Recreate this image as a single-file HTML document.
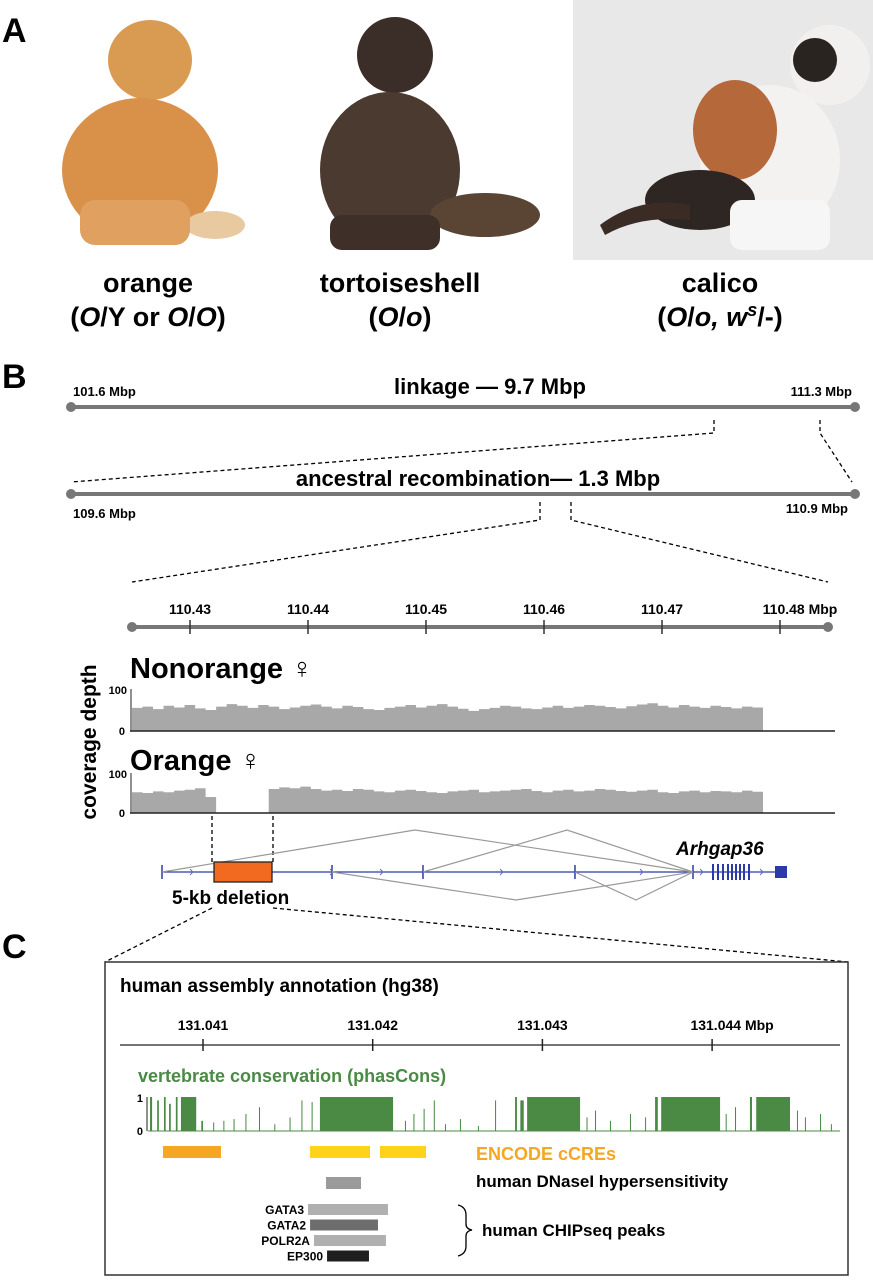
<!DOCTYPE html>
<html><head><meta charset="utf-8"><style>
html,body{margin:0;padding:0;background:#fff}
svg{display:block;font-family:"Liberation Sans",Arial,sans-serif}
</style></head><body>
<svg id="fig" width="873" height="1280" viewBox="0 0 873 1280" xmlns="http://www.w3.org/2000/svg">
<!-- Panel A -->
<text x="2" y="42" font-size="34" font-weight="bold">A</text>
<g>
 <ellipse cx="150" cy="60" rx="42" ry="40" fill="#d99a52"/>
 <ellipse cx="140" cy="170" rx="78" ry="72" fill="#d9914a"/>
 <ellipse cx="215" cy="225" rx="30" ry="14" fill="#e8c9a0"/>
 <rect x="80" y="200" width="110" height="45" rx="15" fill="#e0a060"/>
</g>
<g>
 <ellipse cx="395" cy="55" rx="38" ry="38" fill="#3b2e28"/>
 <ellipse cx="390" cy="170" rx="70" ry="78" fill="#4a3a30"/>
 <ellipse cx="485" cy="215" rx="55" ry="22" fill="#5a4434"/>
 <rect x="330" y="215" width="110" height="35" rx="12" fill="#3e3028"/>
</g>
<g>
 <rect x="573" y="0" width="300" height="260" fill="#e8e8e8"/>
 <ellipse cx="830" cy="65" rx="40" ry="40" fill="#f2f0ee"/>
 <ellipse cx="815" cy="60" rx="22" ry="22" fill="#2a2420"/>
 <ellipse cx="770" cy="160" rx="70" ry="75" fill="#f4f2f0"/>
 <ellipse cx="735" cy="130" rx="42" ry="50" fill="#b5683a"/>
 <ellipse cx="700" cy="200" rx="55" ry="30" fill="#2e2622"/>
 <path d="M600 225 Q640 195 690 205 L690 220 Q640 215 605 235Z" fill="#3a2c24"/>
 <rect x="730" y="200" width="100" height="50" rx="12" fill="#f6f6f6"/>
</g>
<g font-weight="bold" font-size="27" text-anchor="middle">
 <text x="148" y="292">orange</text>
 <text x="148" y="326">(<tspan font-style="italic">O</tspan>/Y or <tspan font-style="italic">O</tspan>/<tspan font-style="italic">O</tspan>)</text>
 <text x="400" y="292">tortoiseshell</text>
 <text x="400" y="326">(<tspan font-style="italic">O</tspan>/<tspan font-style="italic">o</tspan>)</text>
 <text x="720" y="292">calico</text>
 <text x="720" y="326">(<tspan font-style="italic">O</tspan>/<tspan font-style="italic">o, w</tspan><tspan font-style="italic" font-size="18" dy="-10">s</tspan><tspan dy="10">/-)</tspan></text>
</g>
<!-- Panel B -->
<text x="2" y="388" font-size="34" font-weight="bold">B</text>
<g>
 <line x1="71" y1="407" x2="855" y2="407" stroke="#777" stroke-width="4"/>
 <circle cx="71" cy="407" r="5" fill="#777"/><circle cx="855" cy="407" r="5" fill="#777"/>
 <text x="73" y="396" font-size="13" font-weight="bold">101.6 Mbp</text>
 <text x="852" y="396" font-size="13" font-weight="bold" text-anchor="end">111.3 Mbp</text>
 <text x="490" y="394" font-size="22" font-weight="bold" text-anchor="middle">linkage — 9.7 Mbp</text>
</g>
<g fill="none" stroke="#000" stroke-width="1.3" stroke-dasharray="4,3">
 <polyline points="714,420 714,433 71,482"/>
 <polyline points="820,420 820,433 852,482"/>
 <polyline points="540,502 540,520 132,582"/>
 <polyline points="571,502 571,520 828,582"/>
 <line x1="212" y1="816" x2="212" y2="862"/>
 <line x1="273" y1="816" x2="273" y2="862"/>
 <polyline points="212,908 105,962"/>
 <polyline points="273,908 848,962"/>
</g>
<g>
 <line x1="71" y1="494" x2="855" y2="494" stroke="#777" stroke-width="4"/>
 <circle cx="71" cy="494" r="5" fill="#777"/><circle cx="855" cy="494" r="5" fill="#777"/>
 <text x="73" y="518" font-size="13" font-weight="bold">109.6 Mbp</text>
 <text x="848" y="513" font-size="13" font-weight="bold" text-anchor="end">110.9 Mbp</text>
 <text x="478" y="486" font-size="22" font-weight="bold" text-anchor="middle">ancestral recombination— 1.3 Mbp</text>
</g>
<g id="mbpAxis"></g>
<text transform="translate(96,742) rotate(-90)" font-size="21" font-weight="bold" text-anchor="middle">coverage depth</text>
<text x="130" y="678" font-size="29" font-weight="bold">Nonorange ♀</text>
<text x="130" y="770" font-size="29" font-weight="bold">Orange ♀</text>
<g id="cov1"></g>
<g id="cov2"></g>
<g id="gene"></g>
<text x="676" y="855" font-size="19" font-weight="bold" font-style="italic">Arhgap36</text>
<rect x="214" y="862" width="58" height="20" fill="#f26a1f" stroke="#222" stroke-width="1.3"/>
<text x="172" y="904" font-size="19" font-weight="bold">5-kb deletion</text>
<!-- Panel C -->
<text x="2" y="958" font-size="34" font-weight="bold">C</text>
<rect x="105" y="962" width="743" height="313" fill="none" stroke="#333" stroke-width="1.5"/>
<text x="120" y="992" font-size="19" font-weight="bold">human assembly annotation (hg38)</text>
<g id="hgAxis"></g>
<text x="138" y="1082" font-size="18" font-weight="bold" fill="#4a8a45">vertebrate conservation (phasCons)</text>
<g id="cons"></g>
<g id="ann"></g>
<text x="476" y="1160" font-size="18" font-weight="bold" fill="#f5a623">ENCODE cCREs</text>
<text x="476" y="1187" font-size="17" font-weight="bold">human DNaseI hypersensitivity</text>
<path d="M458 1205 Q466 1207 466 1215 L466 1224 Q466 1229 472 1230 Q466 1231 466 1236 L466 1246 Q466 1254 458 1256" fill="none" stroke="#000" stroke-width="1.3"/>
<text x="482" y="1236" font-size="17" font-weight="bold">human CHIPseq peaks</text>
</svg>
<script>
const NS="http://www.w3.org/2000/svg";
// ---- data ----
const mbpTicks=[110.43,110.44,110.45,110.46,110.47,110.48];
const nonorangeCoverage=[55,58,52,60,56,62,54,50,58,64,60,55,62,58,52,56,60,63,58,54,60,57,52,50,55,58,62,56,60,64,58,53,48,52,55,60,58,54,52,56,60,55,58,62,60,57,54,59,63,66,60,56,62,58,55,60,57,54,58,56];
const orangeCoverage=[52,50,54,52,56,58,62,40,0,0,0,0,0,60,64,62,66,60,56,58,55,60,58,54,52,56,58,55,52,50,54,56,58,52,54,56,58,60,55,52,56,58,54,56,60,58,55,53,56,58,52,50,54,56,52,55,54,52,56,53];
const hgTicks=[131.041,131.042,131.043,131.044];
// conservation elements: [start, end, value]  (genomic Mbp)
const consElements=[[131.040688,131.040700,1],[131.040730,131.040740,0.9],[131.040770,131.040780,1],[131.040800,131.040810,0.8],[131.040840,131.040850,1],[131.040870,131.040960,1],[131.040990,131.041000,0.3],[131.041060,131.041066,0.25],[131.041120,131.041126,0.3],[131.041180,131.041186,0.35],[131.041250,131.041256,0.5],[131.041330,131.041336,0.7],[131.041420,131.041426,0.2],[131.041510,131.041516,0.4],[131.041580,131.041586,0.9],[131.041640,131.041646,0.85],[131.041689,131.042120,1],[131.042190,131.042196,0.3],[131.042240,131.042246,0.5],[131.042300,131.042306,0.65],[131.042360,131.042366,0.9],[131.042426,131.042432,0.2],[131.042514,131.042520,0.35],[131.042620,131.042626,0.15],[131.042721,131.042727,0.9],[131.042839,131.042850,1],[131.042870,131.042890,0.9],[131.042910,131.043222,1],[131.043260,131.043266,0.4],[131.043310,131.043316,0.6],[131.043398,131.043404,0.3],[131.043516,131.043522,0.5],[131.043605,131.043611,0.4],[131.043664,131.043680,1],[131.043700,131.044047,1],[131.044080,131.044086,0.5],[131.044135,131.044141,0.7],[131.044223,131.044235,1],[131.044260,131.044459,1],[131.044500,131.044506,0.6],[131.044547,131.044553,0.4],[131.044636,131.044642,0.5],[131.044700,131.044706,0.2]];
const encodeCres=[[131.040764,131.041106,"#f5a623"],[131.041631,131.041984,"#ffd21a"],[131.042043,131.042314,"#ffd21a"]];
const dnase=[[131.041725,131.041931,"#9a9a9a"]];
const chipNames=["GATA3","GATA2","POLR2A","EP300"];
const chipStart=[131.041619,131.041631,131.041654,131.041731];
const chipEnd=[131.042090,131.042031,131.042078,131.041978];
const chipColor=["#b0b0b0","#6d6d6d","#b0b0b0","#1e1e1e"];
// ---- scales ----
const xMbp=v=>190+(v-110.43)*11800;
const xHg=v=>203+(v-131.041)*169700;
function el(tag,attrs,parent){const e=document.createElementNS(NS,tag);for(const k in attrs)e.setAttribute(k,attrs[k]);parent.appendChild(e);return e;}
// mbp axis
const ax=document.getElementById('mbpAxis');
el('line',{x1:132,y1:627,x2:828,y2:627,stroke:'#777','stroke-width':4},ax);
el('circle',{cx:132,cy:627,r:5,fill:'#777'},ax);el('circle',{cx:828,cy:627,r:5,fill:'#777'},ax);
mbpTicks.forEach((t,i)=>{const x=xMbp(t);
 const tk=el('line',{x1:x,y1:620,x2:x,y2:634,stroke:'#333','stroke-width':1.5},ax);
 
 
 const tx=el('text',{x:x+(i==5?20:0),y:614,'font-size':14,'font-weight':'bold','text-anchor':'middle'},ax);
 
 
 tx.textContent=t.toFixed(2)+(i==5?' Mbp':'');});
// coverage
function coverage(gid,vals,base,top){
 const g=document.getElementById(gid);const x0=132,x1=763,w=(x1-x0)/vals.length;const ys=v=>base-(base-top)*v/100;
 let d='M'+x0+' '+base;vals.forEach((v,i)=>{d+=' L'+(x0+i*w)+' '+ys(v)+' L'+(x0+(i+1)*w)+' '+ys(v);});d+=' L'+x1+' '+base+'Z';
 const p=el('path',{d:d,fill:'#a8a8a8'},g);
 
 
 el('line',{x1:130,y1:base,x2:835,y2:base,stroke:'#222','stroke-width':1.5},g);
 el('line',{x1:131,y1:top,x2:131,y2:base,stroke:'#222','stroke-width':1},g);
 const a=el('text',{x:127,y:top+5,'font-size':11,'font-weight':'bold','text-anchor':'end'},g);a.textContent='100';
 const b=el('text',{x:125,y:base+4,'font-size':11,'font-weight':'bold','text-anchor':'end'},g);b.textContent='0';
}
coverage('cov1',nonorangeCoverage,731,689);
coverage('cov2',orangeCoverage,813,773);
// gene model
const gg=document.getElementById('gene');const gy=872;
el('line',{x1:162,y1:gy,x2:780,y2:gy,stroke:'#2b3aa8','stroke-width':1.3},gg);
[162,332,423,575,693].forEach(x=>el('line',{x1:x,y1:gy-7,x2:x,y2:gy+7,stroke:'#2b3aa8','stroke-width':1.5},gg));
[712,717,722,727,731,735,739,743,748].forEach(x=>el('rect',{x:x,y:gy-8,width:2,height:16,fill:'#2b3aa8'},gg));
el('rect',{x:775,y:gy-6,width:12,height:12,fill:'#2b3aa8'},gg);
[190,330,380,500,640,700,760].forEach(x=>el('path',{d:`M${x} ${gy-3} L${x+3} ${gy} L${x} ${gy+3}`,fill:'none',stroke:'#6670c0'},gg));
[[162,415,830,693],[423,567,830,693],[332,516,900,693],[575,636,900,693]].forEach(a=>
 el('polyline',{points:`${a[0]},${gy} ${a[1]},${a[2]} ${a[3]},${gy}`,fill:'none',stroke:'#999','stroke-width':1.2},gg));
// hg axis
const ha=document.getElementById('hgAxis');
el('line',{x1:120,y1:1045,x2:840,y2:1045,stroke:'#222','stroke-width':1.3},ha);
hgTicks.forEach((t,i)=>{const x=xHg(t);
 el('line',{x1:x,y1:1039,x2:x,y2:1051,stroke:'#222','stroke-width':1.5},ha);
 const tx=el('text',{x:x+(i==3?20:0),y:1030,'font-size':14,'font-weight':'bold','text-anchor':'middle'},ha);
 
 
 tx.textContent=t.toFixed(3)+(i==3?' Mbp':'');});
// conservation
const cg=document.getElementById('cons');const cb=1131,ct=1097;
el('line',{x1:148,y1:cb,x2:840,y2:cb,stroke:'#4a8a45','stroke-width':1},cg);
el('line',{x1:147,y1:ct,x2:147,y2:cb,stroke:'#222','stroke-width':1},cg);
const t1=el('text',{x:143,y:ct+5,'font-size':11,'font-weight':'bold','text-anchor':'end'},cg);t1.textContent='1';
const t0=el('text',{x:143,y:cb+4,'font-size':11,'font-weight':'bold','text-anchor':'end'},cg);t0.textContent='0';
consElements.forEach(e=>{const x=xHg(e[0]);const w=Math.max(1,xHg(e[1])-x);const h=(cb-ct)*e[2];
 const r=el('rect',{x:x,y:cb-h,width:w,height:h,fill:'#4a8a45'},cg);
 
 });
// annotations
const ag=document.getElementById('ann');
encodeCres.forEach(e=>{const r=el('rect',{x:xHg(e[0]),y:1146,width:xHg(e[1])-xHg(e[0]),height:12,fill:e[2]},ag);
 
 });
dnase.forEach(e=>{const r=el('rect',{x:xHg(e[0]),y:1177,width:xHg(e[1])-xHg(e[0]),height:12,fill:e[2]},ag);
 
 });
chipNames.forEach((n,i)=>{const y=1204+i*15.5;
 const r=el('rect',{x:xHg(chipStart[i]),y:y,width:xHg(chipEnd[i])-xHg(chipStart[i]),height:11,fill:chipColor[i]},ag);
 
 
 const t=el('text',{x:xHg(chipStart[i])-4,y:y+10,'font-size':12,'font-weight':'bold','text-anchor':'end'},ag);
 
 
 t.textContent=n;});
</script>
</body></html>
